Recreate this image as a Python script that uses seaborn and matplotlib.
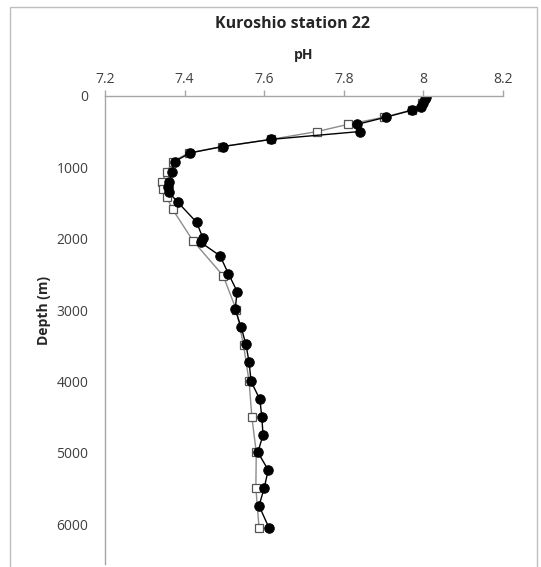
import numpy as np
import pandas as pd
import matplotlib
matplotlib.use("Agg")
import matplotlib.pyplot as plt
import seaborn as sns
from matplotlib.patches import Rectangle

# filled circles series
depth_filled = [10, 50, 100, 150, 200, 300, 400, 500, 610, 710, 800, 920, 1070,
                1200, 1270, 1350, 1490, 1770, 1990, 2050, 2240, 2490, 2740, 2990,
                3240, 3480, 3730, 4000, 4250, 4500, 4750, 4990, 5240, 5490, 5740, 6050]
ph_filled = [8.006, 8.003, 8.0, 7.994, 7.972, 7.905, 7.833, 7.84, 7.617, 7.496,
             7.414, 7.375, 7.368, 7.362, 7.358, 7.36, 7.383, 7.43, 7.446, 7.44,
             7.489, 7.51, 7.532, 7.527, 7.542, 7.554, 7.562, 7.567, 7.589, 7.594,
             7.597, 7.584, 7.61, 7.6, 7.587, 7.612]

# open squares series
depth_open = [10, 100, 200, 300, 400, 500, 610, 710, 800, 920, 1070, 1210, 1300,
              1420, 1590, 2030, 2520, 3000, 3490, 4000, 4500, 4990, 5490, 6050]
ph_open = [8.004, 7.996, 7.97, 7.9, 7.81, 7.733, 7.617, 7.495, 7.41, 7.37, 7.355,
           7.343, 7.345, 7.355, 7.37, 7.421, 7.497, 7.53, 7.548, 7.562, 7.569,
           7.58, 7.579, 7.587]

df_f = pd.DataFrame({"pH": ph_filled, "depth": depth_filled})
df_o = pd.DataFrame({"pH": ph_open, "depth": depth_open})

sns.set_style("white")
plt.rcParams["font.family"] = ["Open Sans", "DejaVu Sans"]

fig = plt.figure(figsize=(5.41, 5.67), dpi=100)
ax = fig.add_axes([0.194, 0.006, 0.736, 0.825])

sns.lineplot(data=df_o, x="pH", y="depth", sort=False, estimator=None, ax=ax,
             color="#8c8c8c", linewidth=1.0, marker="s", markersize=6,
             markerfacecolor="white", markeredgecolor="#555555", markeredgewidth=0.9)
sns.lineplot(data=df_f, x="pH", y="depth", sort=False, estimator=None, ax=ax,
             color="black", linewidth=1.0, marker="o", markersize=6.8,
             markerfacecolor="black", markeredgecolor="black")

ax.set_xlim(7.2, 8.2)
ax.set_ylim(6550, 0)
ax.set_xticks([7.2, 7.4, 7.6, 7.8, 8.0, 8.2])
ax.set_xticklabels(["7.2", "7.4", "7.6", "7.8", "8", "8.2"])
ax.set_yticks([0, 1000, 2000, 3000, 4000, 5000, 6000])
ax.xaxis.tick_top()
ax.xaxis.set_label_position("top")

for s in ["right", "bottom"]:
    ax.spines[s].set_visible(False)
for s in ["left", "top"]:
    ax.spines[s].set_color("#a6a6a6")
    ax.spines[s].set_linewidth(1.0)

ax.tick_params(axis="both", colors="#a6a6a6", labelcolor="#404040",
               labelsize=10, length=4, width=1, direction="out")
ax.tick_params(axis="x", pad=2)
ax.tick_params(axis="y", pad=8)

ax.set_xlabel("pH", fontsize=10, fontweight="bold", color="#262626", labelpad=10)
ax.set_ylabel("Depth (m)", fontsize=10, fontweight="bold", color="#262626")
ax.yaxis.set_label_coords(-0.135, 0.54)

fig.text(0.54, 0.957, "Kuroshio station 22", ha="center", va="center",
         fontsize=11.5, fontweight="bold", color="#262626")

fig.patches.append(Rectangle((10 / 541, -0.01), 527 / 541, 1 - 7 / 567 + 0.01,
                             transform=fig.transFigure, fill=False,
                             edgecolor="#bfbfbf", linewidth=1.0))

fig.savefig("out.png", dpi=100)
